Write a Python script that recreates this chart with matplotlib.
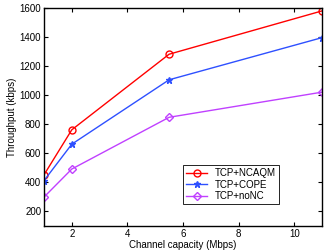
import matplotlib
matplotlib.use('Agg')
import matplotlib.pyplot as plt

plt.rcParams['font.family'] = ['Liberation Sans', 'DejaVu Sans']

capacity = [1, 2, 5.5, 11]
ncaqm = [452, 762, 1282, 1580]
cope = [412, 663, 1106, 1396]
nonc = [299, 492, 848, 1021]

fig = plt.figure(figsize=(3.27, 2.52), dpi=100)
ax = fig.add_axes([44/327, 1 - 226/252, 278/327, 218/252])

ax.plot(capacity, ncaqm, color='#ff0000', marker='o', mfc='none', ms=5, lw=1, mew=1, label='TCP+NCAQM')
ax.plot(capacity, cope, color='#2e50ff', marker='*', ms=5, lw=1, mew=1, label='TCP+COPE')
ax.plot(capacity, nonc, color='#c040ff', marker='D', mfc='none', ms=4, lw=1, mew=1, label='TCP+noNC')

ax.set_xlim(1, 11)
ax.set_ylim(100, 1600)
ax.set_xticks([2, 4, 6, 8, 10])
ax.set_yticks(range(200, 1601, 200))
ax.tick_params(direction='in', top=True, right=True, labelsize=7, length=3, width=0.8, pad=2)
for s in ax.spines.values():
    s.set_linewidth(1)
ax.set_xlabel('Channel capacity (Mbps)', fontsize=7, labelpad=1)
ax.set_ylabel('Throughput (kbps)', fontsize=7, labelpad=2)

leg = ax.legend(loc='lower right', bbox_to_anchor=(0.845, 0.1), fontsize=7, fancybox=False,
                framealpha=1, edgecolor='black', borderpad=0.3, labelspacing=0.15,
                handlelength=2.2, borderaxespad=0)
leg.get_frame().set_linewidth(0.6)

fig.savefig('out.png', dpi=100)
